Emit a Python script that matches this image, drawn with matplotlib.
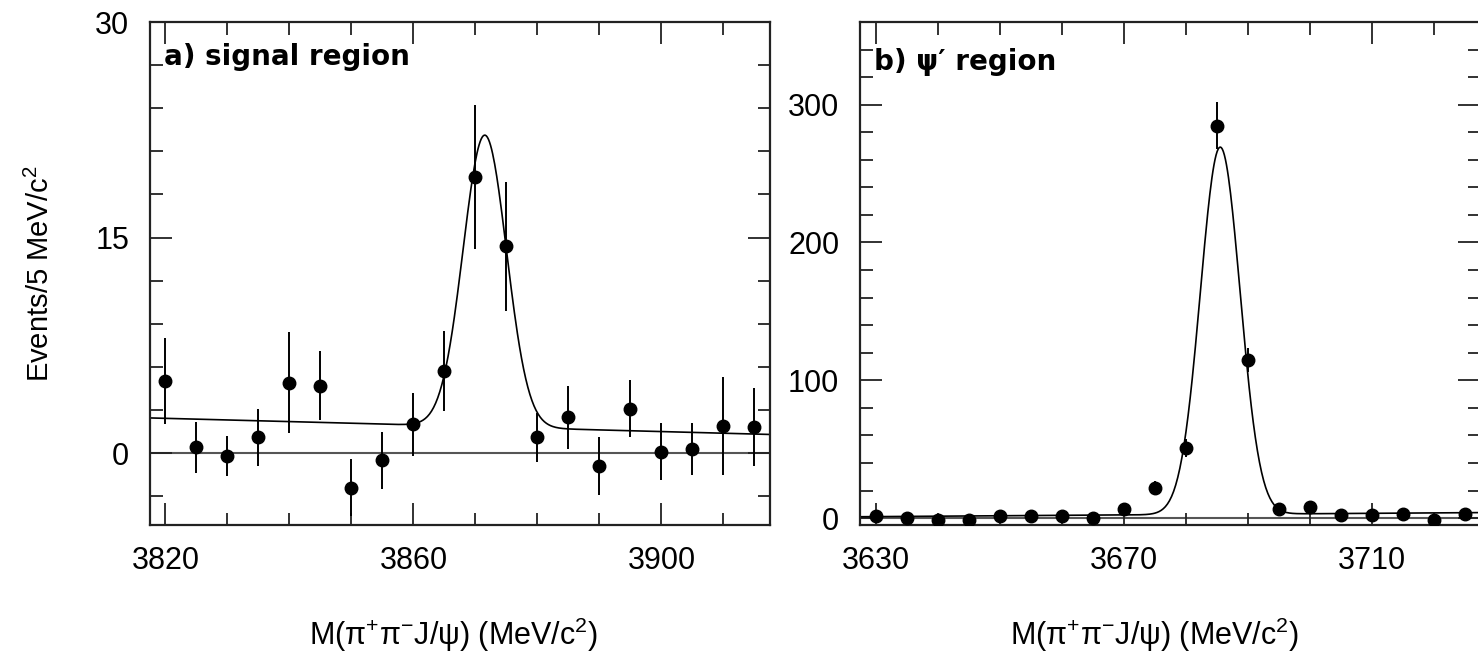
import numpy as np
import matplotlib.pyplot as plt
from matplotlib.ticker import MultipleLocator, FixedLocator

plt.rcParams['font.family'] = ['Liberation Sans', 'DejaVu Sans']
plt.rcParams['mathtext.fontset'] = 'custom'
plt.rcParams['mathtext.rm'] = 'Liberation Sans'
plt.rcParams['mathtext.it'] = 'Liberation Sans:italic'

# a) signal region, X(3872)
mass_a = [3820, 3825, 3830, 3835, 3840, 3845, 3850, 3855, 3860, 3865,
          3870, 3875, 3880, 3885, 3890, 3895, 3900, 3905, 3910, 3915]
events_a = [5.0, 0.4, -0.2, 1.1, 4.9, 4.7, -2.4, -0.5, 2.0, 5.7,
            19.2, 14.4, 1.1, 2.5, -0.9, 3.1, 0.1, 0.3, 1.9, 1.8]
err_a = [3.0, 1.8, 1.4, 2.0, 3.5, 2.4, 2.0, 2.0, 2.2, 2.8,
         5.0, 4.5, 1.7, 2.2, 2.0, 2.0, 2.0, 1.8, 3.4, 2.7]
# fit: gaussian on a linear background
fit_a_mean, fit_a_sigma, fit_a_amp = 3871.5, 3.5, 20.3
fit_a_bg = (2.45, 1.3)   # background at left / right edge

# b) psi' region
mass_b = [3630, 3635, 3640, 3645, 3650, 3655, 3660, 3665, 3670, 3675,
          3680, 3685, 3690, 3695, 3700, 3705, 3710, 3715, 3720, 3725]
events_b = [1.2, 0.2, -1.2, -1.4, 1.2, 1.2, 1.7, 0.0, 6.5, 21.7,
            50.8, 284.8, 114.8, 6.5, 8.4, 1.9, 1.9, 2.9, -1.2, 2.7]
err_b = [3, 3, 3, 3, 3, 3, 3, 3, 4, 5,
         6.5, 17, 9, 3, 4, 3, 3, 3, 3, 3]
fit_b_mean, fit_b_sigma, fit_b_amp = 3685.6, 3.2, 266.5
fit_b_bg = (1.0, 4.0)

xlim_a = (3817.5, 3917.5)
xlim_b = (3627.5, 3727.5)


def fit_curve(xlim, mean, sigma, amp, bg):
    x = np.linspace(xlim[0], xlim[1], 600)
    background = bg[0] + (bg[1] - bg[0]) * (x - xlim[0]) / (xlim[1] - xlim[0])
    return x, background + amp * np.exp(-0.5 * ((x - mean) / sigma) ** 2)


def draw_panel(ax, mass, events, err, xlim, fit):
    ax.axhline(0, color='#555555', lw=1.5, zorder=1)
    fx, fy = fit_curve(xlim, *fit)
    ax.plot(fx, fy, color='black', lw=1.2, zorder=2)
    ax.errorbar(mass, events, yerr=err, fmt='o', color='black', ms=9,
                elinewidth=1.4, capsize=0, zorder=3)
    ax.set_xlim(*xlim)
    ax.xaxis.set_minor_locator(MultipleLocator(10))
    ax.tick_params(which='both', direction='in', top=True, right=True,
                   width=1.3, colors='#222222', labelcolor='black')
    ax.tick_params(which='major', length=16, labelsize=22)
    ax.tick_params(which='minor', length=9)
    ax.tick_params(axis='x', which='major', pad=15)
    ax.tick_params(axis='y', which='major', pad=15)
    for s in ax.spines.values():
        s.set_linewidth(1.6)
        s.set_color('#222222')
    xl = ax.set_xlabel(r'M(π$^{+}$π$^{-}$J/ψ) (MeV/c$^{2}$)', fontsize=22)
    xl.set_va('center')


fig = plt.figure(figsize=(14.78, 6.61), dpi=100)
ax_a = fig.add_axes([150 / 1478, 1 - 525 / 661, 620 / 1478, 503 / 661])
ax_b = fig.add_axes([860 / 1478, 1 - 525 / 661, 620 / 1478, 503 / 661])

draw_panel(ax_a, mass_a, events_a, err_a, xlim_a,
           (fit_a_mean, fit_a_sigma, fit_a_amp, fit_a_bg))
ax_a.set_ylim(-5, 30)
ax_a.xaxis.set_major_locator(FixedLocator([3820, 3860, 3900]))
ax_a.yaxis.set_major_locator(FixedLocator([0, 15, 30]))
ax_a.yaxis.set_minor_locator(MultipleLocator(3))
yl = ax_a.set_ylabel('Events/5 MeV/c$^{2}$', fontsize=21)
yl.set_va('center')
ax_a.yaxis.set_label_coords(-0.177, 0.5)
ax_a.xaxis.set_label_coords(0.49, -0.219)
ax_a.text(0.022, 0.93, 'a) signal region', transform=ax_a.transAxes,
          fontsize=20, fontweight='bold', family='DejaVu Sans', va='center')

draw_panel(ax_b, mass_b, events_b, err_b, xlim_b,
           (fit_b_mean, fit_b_sigma, fit_b_amp, fit_b_bg))
ax_b.set_ylim(-5, 360)
ax_b.xaxis.set_major_locator(FixedLocator([3630, 3670, 3710]))
ax_b.yaxis.set_major_locator(MultipleLocator(100))
ax_b.yaxis.set_minor_locator(MultipleLocator(20))
ax_b.xaxis.set_label_coords(0.475, -0.219)
ax_b.text(0.022, 0.92, 'b) ψ′ region', transform=ax_b.transAxes,
          fontsize=20, fontweight='bold', family='DejaVu Sans', va='center')

fig.savefig('out.png', dpi=100)
